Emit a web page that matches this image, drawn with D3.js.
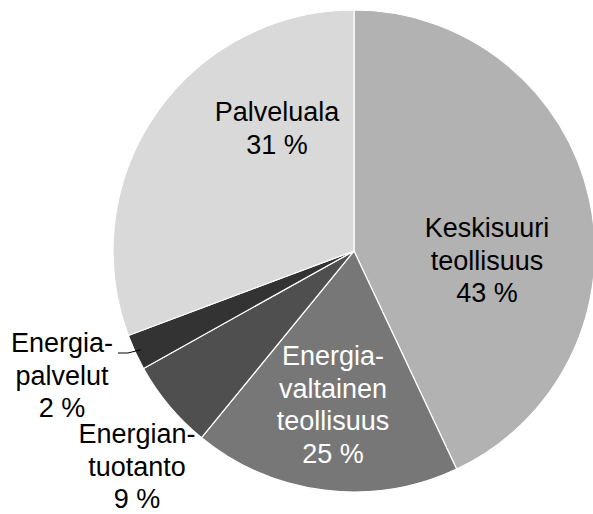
<!DOCTYPE html>
<html>
<head>
<meta charset="utf-8">
<script src="https://cdn.jsdelivr.net/npm/d3@7"></script>
<style>
  html, body { margin: 0; padding: 0; background: #fff; }
  svg { display: block; }
</style>
</head>
<body>
<div id="chart"></div>
<script>
// slice names, split into lines as in the original
const categories = [
  ["Keskisuuri", "teollisuus"],
  ["Energia-", "valtainen", "teollisuus"],
  ["Energian-", "tuotanto"],
  ["Energia-", "palvelut"],
  ["Palveluala"]
];
// slice sizes as drawn (share of the circle, %)
const values = [43, 17.9, 6.0, 2.4, 30.7];
// percentage texts printed on the chart
const pctLabels = ["43 %", "25 %", "9 %", "2 %", "31 %"];

const colors = ["#b2b2b2", "#777777", "#4f4f4f", "#333333", "#d9d9d9"];
const textColors = ["#000", "#fff", "#000", "#000", "#000"];
// label block anchor relative to pie centre: [x, first baseline y]
const labelPos = [[133, -14], [-21, 114], [-217, 192], [-292, 101], [-77, -130]];

const width = 593, height = 514;
const cx = 354, cy = 251, radius = 241;
const lineH = 32.7;

const svg = d3.select("#chart").append("svg")
    .attr("width", width)
    .attr("height", height);

const g = svg.append("g").attr("transform", `translate(${cx},${cy})`);

const pie = d3.pie().sort(null).value(d => d);
const arc = d3.arc().innerRadius(0).outerRadius(radius);
const arcs = pie(values);

g.selectAll("path")
  .data(arcs)
  .join("path")
    .attr("d", arc)
    .attr("fill", (d, i) => colors[i])
    .attr("stroke", "#fff")
    .attr("stroke-width", 1.2)
    .attr("stroke-linejoin", "round");

// leader line for the thin "Energiapalvelut" slice
const a3 = arcs[3];
const mid = (a3.startAngle + a3.endAngle) / 2;
const edge = [Math.sin(mid) * (radius - 6), -Math.cos(mid) * (radius - 6)];
g.append("path")
  .attr("d", d3.line()([[labelPos[3][0] + 56, labelPos[3][1] + 1], [labelPos[3][0] + 66, labelPos[3][1] + 1], edge]))
  .attr("fill", "none")
  .attr("stroke", "#000")
  .attr("stroke-width", 1);

const labels = g.selectAll("text.lbl")
  .data(arcs)
  .join("text")
    .attr("class", "lbl")
    .attr("text-anchor", "middle")
    .attr("font-family", "'Liberation Sans', Arial, sans-serif")
    .attr("font-size", 27)
    .attr("fill", (d, i) => textColors[i]);

labels.each(function(d, i) {
  const t = d3.select(this);
  const lines = categories[i].concat([pctLabels[i]]);
  lines.forEach((s, k) => {
    t.append("tspan")
      .attr("x", labelPos[i][0])
      .attr("y", labelPos[i][1] + k * lineH)
      .text(s);
  });
});
</script>
</body>
</html>
